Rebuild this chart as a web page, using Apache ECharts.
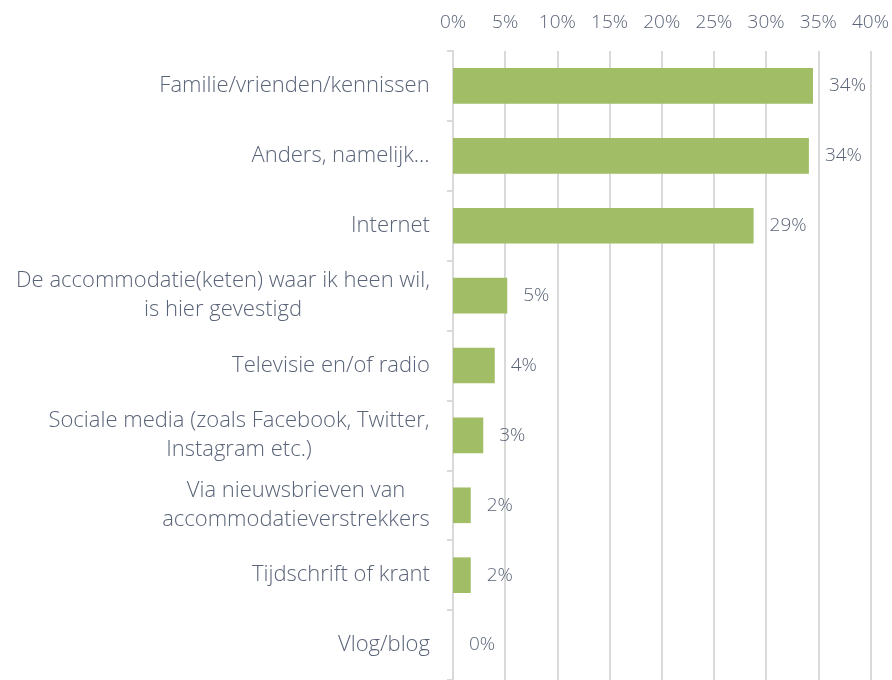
<!DOCTYPE html>
<html>
<head>
<meta charset="utf-8">
<script src="https://cdn.jsdelivr.net/npm/echarts@6/dist/echarts.min.js"></script>
<style>
html, body { margin: 0; padding: 0; background: #fff; }
#chart { width: 892px; height: 680px; }
</style>
</head>
<body>
<div id="chart"></div>
<script>
// categorieën (van boven naar beneden)
var categories = [
	'Familie/vrienden/kennissen',
	'Anders, namelijk…',
	'Internet',
	'De accommodatie(keten) waar ik heen wil,\nis hier gevestigd',
	'Televisie en/of radio',
	'Sociale media (zoals Facebook, Twitter,\nInstagram etc.)',
	'Via nieuwsbrieven van\naccommodatieverstrekkers',
	'Tijdschrift of krant',
	'Vlog/blog'
];
// percentages
var values = [34.49, 34.1, 28.8, 5.2, 4.0, 2.9, 1.7, 1.7, 0];

var textColor = '#5a6478';
var lineColor = '#d9d9d9';
var fontFam = '"Open Sans", sans-serif';
var catSize = 22;

// breedte van tekst meten, zodat regels gecentreerd staan
var ctx = document.createElement('canvas').getContext('2d');
ctx.font = '300 ' + catSize + 'px ' + fontFam;
function textW(s) { return Math.ceil(ctx.measureText(s).width); }

var richStyles = {};
categories.forEach(function (c, i) {
	var w = Math.max.apply(null, c.split('\n').map(textW));
	richStyles['l' + i] = {
		width: w,
		align: 'center',
		color: textColor,
		fontSize: catSize,
		fontFamily: fontFam,
		fontWeight: 300,
		lineHeight: 29
	};
});

var chart = echarts.init(document.getElementById('chart'));
chart.setOption({
	animation: false,
	grid: {
		left: 453,
		right: 20,
		top: 51,
		bottom: -5
	},
	xAxis: {
		type: 'value',
		position: 'top',
		min: 0,
		max: 40,
		interval: 5,
		axisLine: { show: false },
		axisTick: { show: false },
		axisLabel: {
			formatter: '{value}%',
			color: textColor,
			fontSize: 19,
			fontFamily: fontFam,
			fontWeight: 300,
			margin: 19
		},
		splitLine: { lineStyle: { color: lineColor, width: 2 } }
	},
	yAxis: {
		type: 'category',
		inverse: true,
		data: categories,
		axisLine: { lineStyle: { color: lineColor, width: 2 } },
		axisTick: { show: true, length: 6, lineStyle: { color: lineColor, width: 2 } },
		axisLabel: {
			margin: 23,
			align: 'right',
			formatter: function (v, i) {
				return v.split('\n').map(function (l) { return '{l' + i + '|' + l + '}'; }).join('\n');
			},
			rich: richStyles
		}
	},
	series: [{
		type: 'bar',
		data: values,
		barWidth: '51%',
		itemStyle: { color: '#a1be67' },
		label: {
			show: true,
			position: 'right',
			distance: 16,
			color: textColor,
			fontSize: 19,
			fontFamily: fontFam,
			fontWeight: 300,
			formatter: function (p) { return Math.round(p.value) + '%'; }
		}
	}]
});
</script>
</body>
</html>
